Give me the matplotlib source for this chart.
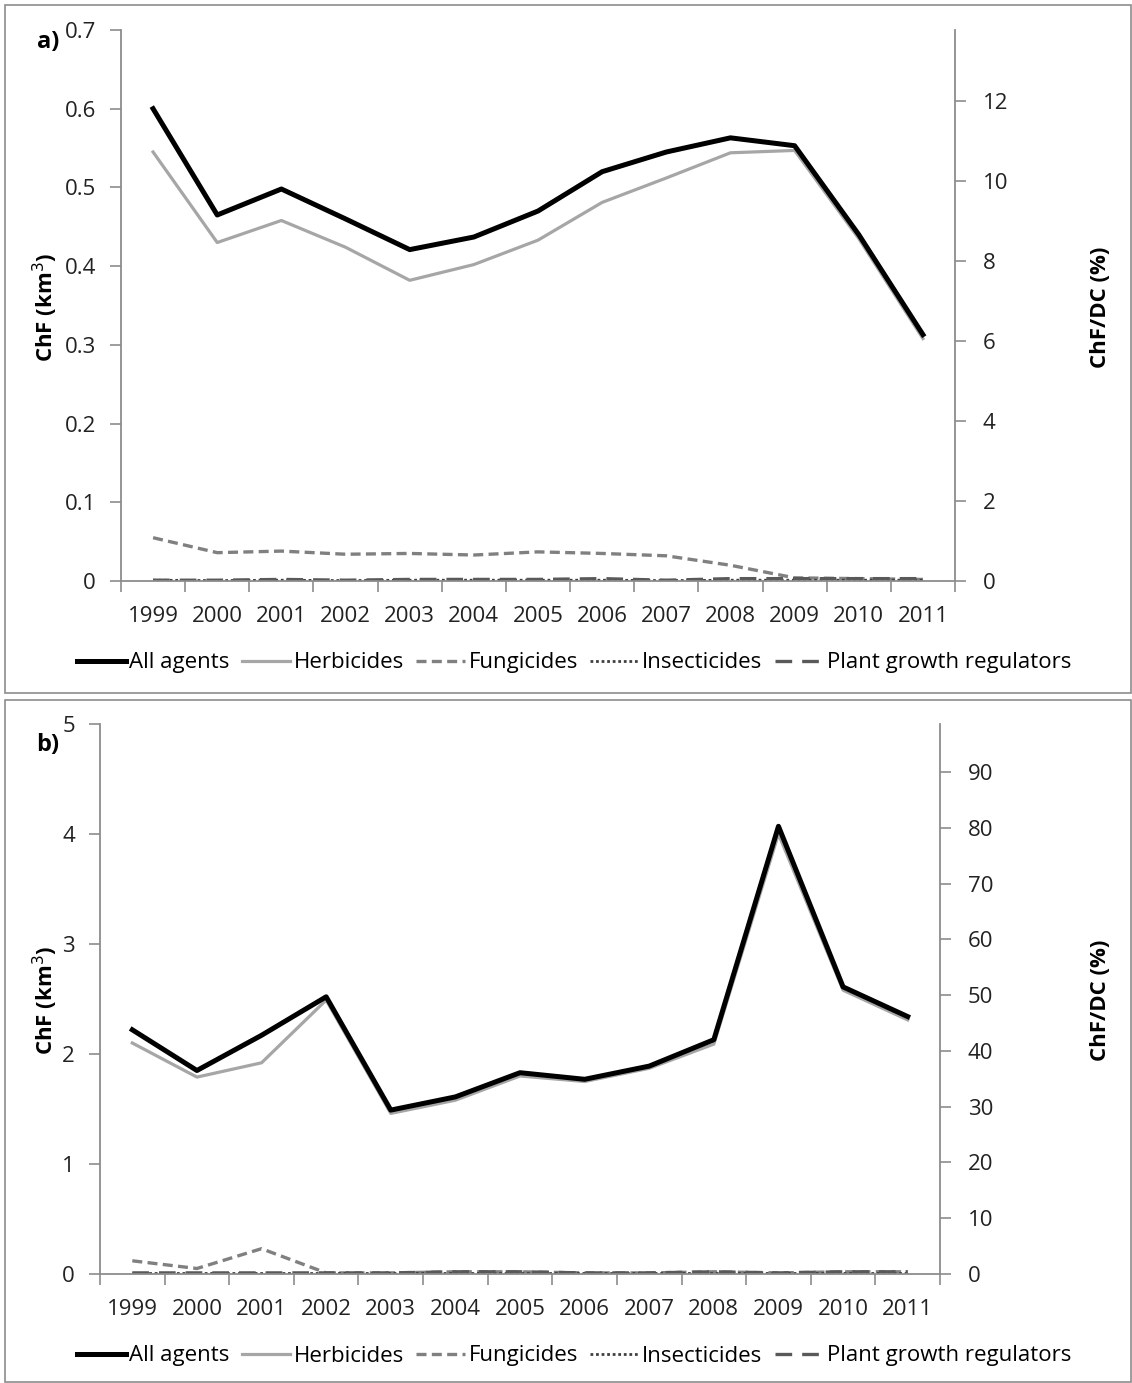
import numpy as np
import matplotlib
matplotlib.use('Agg')
import matplotlib.pyplot as plt
from matplotlib.patches import Rectangle

plt.rcParams['font.family'] = ['Open Sans', 'DejaVu Sans']

years = ['1999', '2000', '2001', '2002', '2003', '2004', '2005',
         '2006', '2007', '2008', '2009', '2010', '2011']

# panel a (ChF, km3)
a_all = [0.600, 0.465, 0.498, 0.460, 0.421, 0.437, 0.470, 0.520, 0.545, 0.563, 0.553, 0.440, 0.313]
a_herb = [0.545, 0.430, 0.458, 0.424, 0.382, 0.402, 0.433, 0.481, 0.512, 0.544, 0.547, 0.435, 0.308]
a_fung = [0.055, 0.036, 0.038, 0.034, 0.035, 0.033, 0.037, 0.035, 0.032, 0.020, 0.004, 0.003, 0.002]
a_insect = [0.001, 0.0005, 0.001, 0.0005, 0.001, 0.001, 0.001, 0.001, 0.0005, 0.001, 0.001, 0.001, 0.001]
a_pgr = [0.001, 0.001, 0.002, 0.001, 0.002, 0.002, 0.002, 0.003, 0.001, 0.003, 0.003, 0.003, 0.003]

# panel b (ChF, km3)
b_all = [2.22, 1.85, 2.17, 2.52, 1.49, 1.61, 1.83, 1.77, 1.89, 2.13, 4.07, 2.61, 2.34]
b_herb = [2.10, 1.79, 1.92, 2.49, 1.46, 1.58, 1.80, 1.75, 1.87, 2.09, 4.00, 2.58, 2.31]
b_fung = [0.12, 0.05, 0.23, 0.01, 0.01, 0.02, 0.02, 0.01, 0.01, 0.02, 0.01, 0.02, 0.02]
b_insect = [0.005, 0.005, 0.005, 0.005, 0.005, 0.005, 0.005, 0.005, 0.005, 0.005, 0.005, 0.005, 0.005]
b_pgr = [0.01, 0.01, 0.01, 0.01, 0.01, 0.02, 0.02, 0.01, 0.01, 0.02, 0.01, 0.02, 0.02]

labels = ['All agents', 'Herbicides', 'Fungicides', 'Insecticides', 'Plant growth regulators']

W, H = 1132, 1383
fig = plt.figure(figsize=(W / 100, H / 100), dpi=100)

AX_COL = '#8c8c8c'
FS = 16


def fx(px):
    return px / W


def fy(py):
    return 1 - py / H


def panel(box, data, ylim, yticks, ylabels, rtop, rticks, tag, tagpos, legy, ylab_y):
    l, t, r, b = box
    ax = fig.add_axes([fx(l), fy(b), fx(r) - fx(l), fy(t) - fy(b)])
    x = np.arange(len(years))
    allv, herb, fung, ins, pgr = data
    ax.plot(x, herb, color='#a6a6a6', lw=2.3, label=labels[1], zorder=3)
    ax.plot(x, allv, color='black', lw=3.6, label=labels[0], zorder=4)
    ax.plot(x, fung, color='#808080', lw=2.4, ls=(0, (3, 1.6)), label=labels[2], zorder=2)
    ax.plot(x, ins, color='#404040', lw=2.0, ls=(0, (1, 1)), label=labels[3], zorder=2)
    ax.plot(x, pgr, color='#595959', lw=2.4, ls=(0, (5, 3)), label=labels[4], zorder=2)

    ax.set_xlim(-0.5, len(years) - 0.5)
    ax.set_ylim(*ylim)
    ax.set_yticks(yticks)
    ax.set_yticklabels(ylabels)
    ax.set_xticks(np.arange(-0.5, len(years)), labels=[''] * (len(years) + 1))
    ax.set_xticks(x, labels=years, minor=True)
    ax.tick_params(axis='x', which='major', direction='out', length=8, color=AX_COL, width=1.2)
    ax.tick_params(axis='x', which='minor', length=0, pad=18, labelsize=FS, labelcolor='#222222')
    ax.tick_params(axis='y', direction='out', length=8, color=AX_COL, width=1.2, pad=10,
                   labelsize=FS, labelcolor='#222222')
    for s in ['top', 'right']:
        ax.spines[s].set_visible(False)
    for s in ['left', 'bottom']:
        ax.spines[s].set_color(AX_COL)
        ax.spines[s].set_linewidth(1.3)

    ax2 = ax.twinx()
    ax2.set_ylim(0, rtop)
    ax2.set_yticks(rticks)
    ax2.tick_params(axis='y', direction='out', length=8, color=AX_COL, width=1.2, pad=12,
                    labelsize=FS, labelcolor='#222222')
    for s in ['top', 'left', 'bottom']:
        ax2.spines[s].set_visible(False)
    ax2.spines['right'].set_color(AX_COL)
    ax2.spines['right'].set_linewidth(1.3)

    fig.text(fx(45), fy(ylab_y), 'ChF (km$^3$)', rotation=90, ha='center', va='center',
             fontsize=FS, fontweight='bold')
    fig.text(fx(1100), fy(ylab_y), 'ChF/DC (%)', rotation=90, ha='center', va='center',
             fontsize=FS, fontweight='bold')
    fig.text(fx(tagpos[0]), fy(tagpos[1]), tag, ha='center', va='center',
             fontsize=FS + 1, fontweight='bold')

    h, lb = ax.get_legend_handles_labels()
    order = [1, 0, 2, 3, 4]
    ax.legend([h[i] for i in order], [lb[i] for i in order], loc='center',
              bbox_to_anchor=(fx(574), fy(legy)), bbox_transform=fig.transFigure,
              ncol=5, frameon=False, fontsize=FS, handlelength=2.2, handletextpad=0.15,
              columnspacing=0.55, borderpad=0)
    return ax


panel((121, 30, 955, 581), (a_all, a_herb, a_fung, a_insect, a_pgr),
      (0, 0.7), np.arange(0, 0.71, 0.1), ['0', '0.1', '0.2', '0.3', '0.4', '0.5', '0.6', '0.7'],
      13.78, [0, 2, 4, 6, 8, 10, 12], 'a)', (48, 42), 663, 307)

panel((100, 724, 940, 1274), (b_all, b_herb, b_fung, b_insect, b_pgr),
      (0, 5), [0, 1, 2, 3, 4, 5], ['0', '1', '2', '3', '4', '5'],
      98.6, [0, 10, 20, 30, 40, 50, 60, 70, 80, 90], 'b)', (48, 745), 1356, 1000)

# panel frames
for (x0, y0, x1, y1) in [(5, 5, 1131, 693), (5, 700, 1131, 1382)]:
    fig.add_artist(Rectangle((fx(x0), fy(y1)), fx(x1) - fx(x0), fy(y0) - fy(y1),
                             transform=fig.transFigure, fill=False, edgecolor='#8c8c8c', lw=1.2))

fig.savefig('out.png', dpi=100)
